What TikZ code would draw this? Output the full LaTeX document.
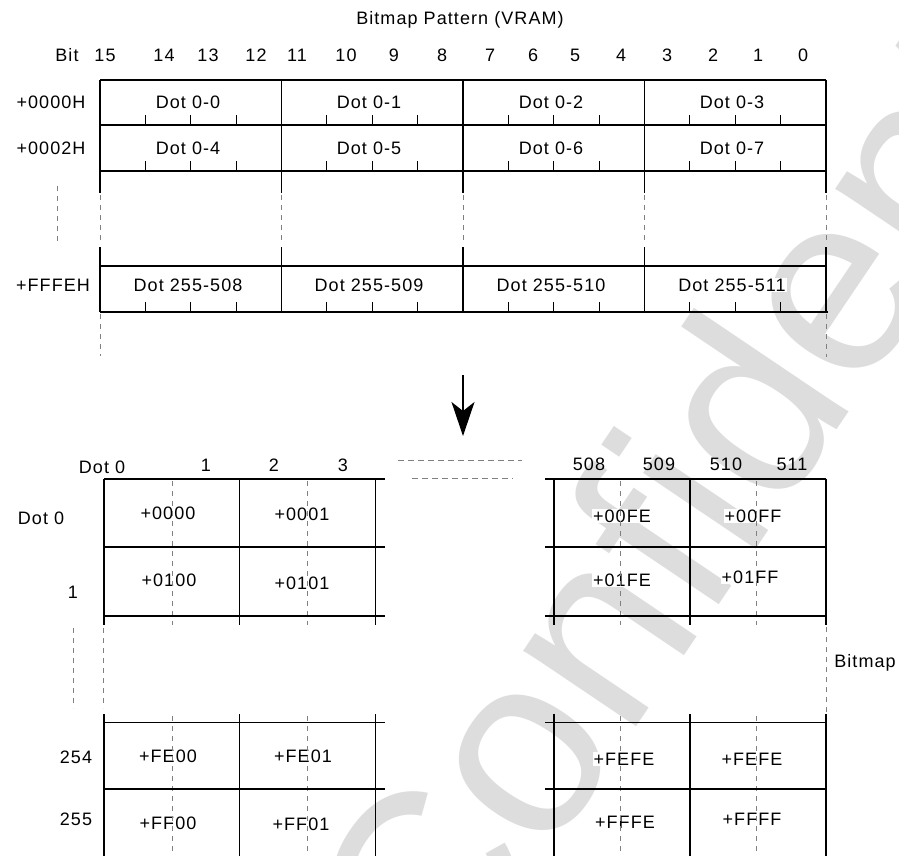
\documentclass[tikz,border=0pt]{standalone}
\usepackage{fontspec}
\setmainfont{Liberation Sans}[LetterSpace=6]
\newfontfamily\wmfont{Liberation Sans}
\usetikzlibrary{arrows.meta}
\definecolor{wmgray}{RGB}{221,221,221}
\definecolor{dgray}{RGB}{128,128,128}
\begin{document}
\begin{tikzpicture}[x=1pt,y=-1pt,
  lbl/.style={inner sep=1pt, font=\fontsize{18}{20}\selectfont},
  cell/.style={lbl, fill=white},
  gridline/.style={line width=1.3pt, black},
  gdash/.style={dgray, line width=1pt, dash pattern=on 5pt off 5pt},
  hdash/.style={dgray, line width=1pt, dash pattern=on 6pt off 4pt},
  tickline/.style={line width=1.2pt}]
\useasboundingbox (0,0) rectangle (899,856);
\fill[white] (0,0) rectangle (899,856);
% watermark
\begin{scope}
\clip (0,0) rectangle (899,856);
\node[text=wmgray, rotate=56, anchor=base west, inner sep=0pt,
      font=\wmfont\fontsize{257}{257}\selectfont] (wmk) at (443,1014) {Confidential};
\end{scope}

% ---------- top: bitmap pattern ----------
\node[lbl] (title) at (460,20) {Bitmap Pattern (VRAM)};
\node[lbl] (bitlbl) at (67,55) {Bit};
\foreach \t/\x [count=\i] in {15/105,14/164,13/208,12/256,11/297,10/346,9/394,8/442,
                              7/490,6/533,5/575,4/621,3/667,2/713,1/758,0/803}
  \node[lbl] (b\i) at (\x,55) {\t};
\node[lbl] (r0) at (51,102) {+0000H};
\node[lbl] (r2) at (51,148) {+0002H};
\node[lbl] (rF) at (53,285) {+FFFEH};

\node[cell] (d00) at (188,102) {Dot 0-0};
\node[cell] (d01) at (369,102) {Dot 0-1};
\node[cell] (d02) at (551,102) {Dot 0-2};
\node[cell] (d03) at (732,102) {Dot 0-3};
\node[cell] (d04) at (188,148) {Dot 0-4};
\node[cell] (d05) at (369,148) {Dot 0-5};
\node[cell] (d06) at (551,148) {Dot 0-6};
\node[cell] (d07) at (732,148) {Dot 0-7};
\node[cell] (d08) at (188,285) {Dot 255-508};
\node[cell] (d09) at (369,285) {Dot 255-509};
\node[cell] (d10) at (551,285) {Dot 255-510};
\node[cell] (d11) at (732,285) {Dot 255-511};

\foreach \x in {100,281.5,463,644.5,826} {
  \draw[gridline] (\x,80) -- (\x,193);
  \draw[gdash] (\x,195) -- (\x,243);
  \draw[gridline] (\x,247) -- (\x,312);
}
\foreach \y in {80,125,171,266}
  \draw[gridline] (100,\y) -- (826,\y);
\draw[line width=2pt] (100,312) -- (828,312);
\foreach \c in {100,281.5,463,644.5}
  \foreach \q in {1,2,3}
    \foreach \yb in {125,171,312}
      \draw[tickline] ({\c+\q*45.375},\yb) -- ++(0,-10);
\draw[gdash] (57,186) -- (57,243);
\draw[gdash] (100,314) -- (100,356);
\draw[gdash] (826,314) -- (826,357);

% ---------- arrow ----------
\coordinate (arrS) at (463,375);
\coordinate (arrE) at (463,436);
\draw[line width=1.3pt, -{Stealth[length=34pt,width=23pt,inset=9pt]}] (arrS) -- (arrE);
\draw[hdash] (398,460) -- (522,460);
\draw[hdash] (412,478) -- (513,478);

% ---------- bottom: bitmap ----------
\node[lbl] (c0) at (102,467) {Dot 0};
\node[lbl] (c1) at (206,465) {1};
\node[lbl] (c2) at (274,465) {2};
\node[lbl] (c3) at (343,465) {3};
\node[lbl] (c508) at (589,464) {508};
\node[lbl] (c509) at (659,464) {509};
\node[lbl] (c510) at (726,464) {510};
\node[lbl] (c511) at (792,464) {511};

\node[lbl] (l0) at (41,518) {Dot 0};
\node[lbl] (l1) at (73,592) {1};
\node[lbl] (l254) at (76,757) {254};
\node[lbl] (l255) at (76,819) {255};
\node[lbl] (bmp) at (865,663) {Bitmap};

\node[cell] (a1) at (168,513) {+0000};
\node[cell] (a2) at (302,514) {+0001};
\node[cell] (a3) at (169,580) {+0100};
\node[cell] (a4) at (302,583) {+0101};
\node[cell] (a5) at (622,516) {+00FE};
\node[cell] (a6) at (753,516) {+00FF};
\node[cell] (a7) at (622,580) {+01FE};
\node[cell] (a8) at (750,577) {+01FF};
\node[cell] (a9) at (168,756) {+FE00};
\node[cell] (a10) at (303,756) {+FE01};
\node[cell] (a11) at (168,823) {+FF00};
\node[cell] (a12) at (301,824) {+FF01};
\node[cell] (a13) at (624,759) {+FEFE};
\node[cell] (a14) at (752,759) {+FEFE};
\node[cell] (a15) at (625,822) {+FFFE};
\node[cell] (a16) at (752,819) {+FFFF};

\foreach \x in {172,307.7,620,756} {
  \draw[gdash] (\x,481) -- (\x,625);
  \draw[gdash] (\x,716) -- (\x,856);
}
\foreach \x in {104,239.5,375.5,554,690,826} {
  \draw[gridline] (\x,479) -- (\x,625);
  \draw[gridline] (\x,714) -- (\x,856);
}
\foreach \y in {479,547,616,722.5,789} {
  \draw[gridline] (104,\y) -- (385,\y);
  \draw[gridline] (545,\y) -- (826,\y);
}
\draw[gdash] (73,628) -- (73,708);
\draw[gdash] (103,628) -- (103,708);
\draw[gdash] (826,627) -- (826,712);
\end{tikzpicture}
\end{document}
